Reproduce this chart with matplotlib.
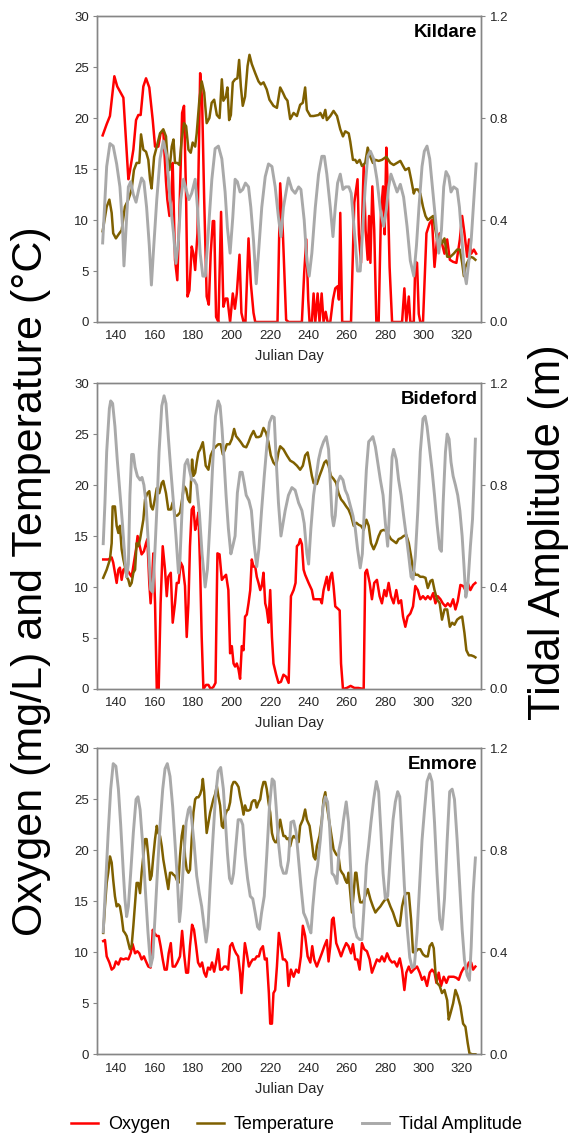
import matplotlib.pyplot as plt

plt.rcParams['font.family'] = ['Liberation Sans', 'DejaVu Sans']

# ---------------- data ----------------
# Kildare
kil_o2_day = [132.8, 134.9, 136.6, 138.9, 140.4, 142.7, 143.6, 146.2, 147, 148.8, 150.2, 151.4, 152.6, 154,
              155.4, 157.1, 158.9, 160.1, 161.8, 163, 164.4, 165.8, 166.5, 167.6, 168.6, 169.3, 170.5, 171.7,
              172.8, 174.2, 175.2, 176.3, 177, 178, 179.2, 180.1, 181, 182.2, 183.6, 184.6, 185.7, 187, 188.1,
              189.1, 190.2, 190.9, 191.9, 193.1, 194.5, 195.7, 196.8, 197.8, 199.2, 200.6, 201.7, 202.7, 204.1,
              205.1, 206.2, 207.2, 208.8, 210, 211.4, 212.3, 223.9, 225.3, 226.7, 228.4, 229.7, 236.6, 237.8,
              238.9, 239.9, 240.6, 241.8, 242.7, 243.6, 244.8, 245.8, 246.9, 247.9, 249, 250, 251.4, 252.8, 254,
              255.2, 255.9, 256.6, 257.6, 262.2, 263.9, 265.6, 266.3, 267.4, 268.8, 269.8, 270.9, 271.6, 272.3,
              273.3, 274.3, 275.4, 276.6, 277.8, 278.9, 279.7, 280.6, 281.3, 282.3, 283.6, 288.8, 290, 291,
              292.3, 293.1, 294.9, 295.7, 296.6, 297.5, 298.3, 299.7, 301.5, 303.2, 304.4, 305.7, 307, 308.4,
              309.6, 310.9, 312.3, 313.7, 315.4, 317.1, 318.9, 320.1, 321.3, 322.7, 323.7, 324.8, 326.2, 327.4]
kil_o2 = [18.3, 19.4, 20.2, 24.1, 23.1, 22.3, 22.0, 14.0, 14.8, 16.9, 19.8, 20.3, 20.3, 23.1,
          23.9, 23.0, 19.8, 17.2, 17.2, 18.5, 18.7, 13.8, 12.0, 10.4, 12.3, 15.6, 6.1, 4.1,
          10.7, 20.5, 21.2, 12.0, 2.5, 3.1, 7.4, 6.7, 5.1, 8.7, 24.4, 21.8, 12.0, 2.5, 1.7,
          6.7, 9.9, 9.9, 0.5, 0.0, 10.8, 1.5, 2.3, 2.3, 0.0, 2.8, 1.3, 2.8, 6.6,
          0.9, 0.0, 0.0, 8.2, 3.8, 0.9, 0.0, 0.0, 13.6, 8.7, 0.2, 0.0, 0.0, 4.8,
          8.1, 2.2, 0.0, 0.0, 2.8, 0.0, 2.8, 0.0, 2.8, 0.0, 1.0, 0.0, 0.0, 2.2, 3.3,
          3.5, 2.2, 10.7, 0.0, 0.0, 11.7, 14.0, 8.6, 5.8, 15.4, 9.0, 6.1, 10.4, 5.8,
          13.3, 9.0, 0.0, 0.0, 10.7, 13.3, 8.6, 17.1, 13.3, 5.4, 0.0, 0.0, 3.3, 0.0,
          2.5, 0.0, 0.0, 5.9, 5.8, 0.8, 0.0, 0.0, 8.7, 9.7, 10.0, 5.4, 8.1, 8.7,
          7.7, 6.7, 8.1, 6.1, 5.9, 5.8, 8.1, 10.4, 8.7, 6.4, 8.1, 6.7, 7.1, 6.7]

kil_temp_day = [132.8, 134.9, 136.3, 137.5, 138.3, 139.7, 141.5, 142.7, 144.4, 146.2, 147.9, 149.1, 150.5,
                151.9, 152.8, 154, 155.4, 156.6, 157.5, 158.3, 159.6, 161, 162.7, 164.4, 165.8, 166.5, 167.6,
                168.8, 169.7, 170.5, 171.7, 172.8, 174, 175.2, 176.3, 177.5, 178.7, 179.7, 181, 181.8, 183.2,
                184.4, 185.7, 187, 188.4, 189.6, 190.9, 192.3, 193.7, 194.9, 195.7, 197, 197.8, 198.7, 199.6,
                200.6, 201.8, 203, 203.9, 204.8, 205.8, 207, 208.3, 209.3, 210.5, 212.3, 214, 215.2, 216.6,
                218.3, 219.7, 221.8, 223.6, 225.3, 226.7, 227.9, 229.1, 230.5, 232.3, 234, 235.7, 237.1, 238.3,
                239.2, 241, 242.7, 245.3, 246.2, 247.6, 248.8, 249.6, 251.4, 253.1, 254.9, 256.6, 258, 259.2,
                261, 261.8, 263.2, 264.4, 265.3, 266.7, 267.9, 269.6, 270.9, 272.3, 273.6, 274.9, 276.6, 278.3,
                280.6, 282.7, 284.4, 286.2, 287.9, 289.3, 290.5, 292.3, 293.5, 294.9, 295.7, 297, 298.3, 299.7,
                301, 302.2, 303.6, 305, 306.2, 307, 308.4, 309.6, 310.9, 312.3, 314, 315.7, 317.5, 318.9, 320.1,
                321, 321.8, 323, 324.4, 325.8, 327]
kil_temp = [8.9, 11.3, 12.0, 10.7, 8.7, 8.2, 8.7, 9.0, 11.3, 12.0, 13.0, 14.9, 15.6,
            15.6, 18.4, 16.9, 16.7, 15.9, 14.0, 13.1, 16.2, 17.2, 18.5, 18.9, 18.2, 16.2, 14.9,
            17.2, 17.9, 15.6, 15.6, 15.4, 17.9, 19.5, 19.2, 16.9, 16.6, 17.6, 17.2, 18.5, 21.8,
            23.6, 22.5, 19.5, 20.0, 21.5, 21.8, 20.3, 20.0, 23.8, 21.7, 22.1, 23.0, 19.8, 20.3,
            23.5, 23.8, 23.9, 25.7, 23.1, 21.2, 22.1, 25.1, 26.2, 25.3, 24.4, 23.6, 23.3, 23.5,
            22.8, 21.8, 21.2, 21.0, 23.0, 22.5, 22.0, 21.7, 19.9, 20.5, 20.2, 21.3, 21.5, 23.0,
            20.8, 20.2, 20.2, 20.3, 20.5, 20.0, 20.8, 19.8, 20.2, 20.7, 20.2, 18.9, 18.2, 18.7,
            18.5, 17.7, 15.9, 15.9, 15.6, 15.9, 15.3, 15.6, 17.1, 16.2, 15.6, 15.9, 15.8, 15.9,
            16.2, 15.6, 15.4, 15.6, 15.8, 15.3, 14.9, 15.1, 14.0, 12.6, 13.0, 13.0, 12.6, 11.3,
            10.4, 10.0, 10.2, 10.4, 9.0, 8.1, 8.4, 7.7, 8.2, 6.4, 6.4, 6.7, 7.1, 7.1, 5.8,
            4.5, 5.4, 5.9, 6.4, 6.3, 6.1]

kil_tide_day = [132.8, 134.9, 136.6, 138.3, 140.1, 141.8, 143.2, 143.9, 145, 146.2, 147.4, 148.8, 150.2,
                151.6, 153.1, 154.3, 155.7, 157.1, 158.2, 159.2, 161, 162.7, 164.4, 166.2, 167.9, 169.7, 171,
                172.3, 173.5, 174.9, 176.3, 177.7, 179.2, 181, 182.2, 183.6, 185, 186.3, 187.9, 189.7, 191.4,
                193.1, 194.9, 196.6, 197.8, 199.2, 200.6, 201.8, 203, 204.4, 205.8, 207.2, 208.8, 210, 211.4,
                212.8, 214, 215.7, 217.5, 219.2, 221, 222.7, 224.4, 225.7, 227, 228.8, 229.6, 231.4, 233.1,
                234.9, 236.1, 237.8, 239.2, 240.4, 241.8, 243.6, 245.3, 247, 248.3, 249.6, 251.4, 252.8, 254,
                255.2, 256.6, 258, 259.4, 261.1, 262.3, 263.9, 265.6, 267, 268.4, 269.6, 270.9, 272.3, 274,
                275.7, 277.5, 279.2, 280.6, 281.8, 283, 284.4, 286.2, 287.9, 289.6, 291.4, 293.1, 294.9, 296.3,
                297.6, 299.2, 300.4, 301.8, 303.2, 304.6, 306.2, 307.9, 309.3, 310.5, 311.7, 313.1, 314.3,
                315.7, 317.5, 318.7, 320.1, 321.3, 322.3, 323.6, 324.8, 326.2, 327.4]
kil_tide = [0.31, 0.61, 0.70, 0.69, 0.62, 0.53, 0.37, 0.22, 0.37, 0.53, 0.55, 0.50, 0.47,
            0.52, 0.565, 0.55, 0.45, 0.30, 0.145, 0.27, 0.48, 0.64, 0.71, 0.65, 0.48, 0.35, 0.23,
            0.32, 0.48, 0.56, 0.52, 0.48, 0.505, 0.56, 0.45, 0.27, 0.18, 0.18, 0.36, 0.56, 0.68,
            0.69, 0.64, 0.51, 0.37, 0.27, 0.41, 0.56, 0.55, 0.51, 0.52, 0.545, 0.53, 0.45, 0.32,
            0.15, 0.27, 0.45, 0.57, 0.62, 0.61, 0.53, 0.41, 0.335, 0.45, 0.53, 0.565, 0.52, 0.505,
            0.53, 0.52, 0.40, 0.24, 0.18, 0.27, 0.45, 0.58, 0.65, 0.65, 0.58, 0.45, 0.335, 0.45,
            0.545, 0.58, 0.52, 0.53, 0.53, 0.505, 0.36, 0.20, 0.20, 0.375, 0.53, 0.65, 0.67, 0.64,
            0.56, 0.44, 0.375, 0.44, 0.53, 0.58, 0.55, 0.51, 0.54, 0.49, 0.375, 0.24, 0.18, 0.30,
            0.45, 0.61, 0.67, 0.69, 0.64, 0.53, 0.40, 0.27, 0.36, 0.53, 0.59, 0.57, 0.51,
            0.53, 0.52, 0.45, 0.31, 0.19, 0.15, 0.24, 0.32, 0.48, 0.62]

# Bideford
bid_o2_day = [133.1, 135.7, 137.5, 138.3, 139.2, 140.1, 141, 141.8, 142.7, 143.6, 145, 146.2, 147.9, 149.1,
              150.2, 151, 151.9, 153.1, 154.3, 155.4, 156.1, 157.1, 157.8, 158.5, 159.2, 160.1, 161, 162, 163,
              164.1, 165.3, 166.2, 167, 168.3, 169.3, 170.5, 171.4, 172.4, 173.5, 174.5, 175.7, 176.6, 177.5,
              178.3, 179.2, 180.1, 181, 181.8, 182.7, 183.6, 184.4, 185.3, 186.7, 187.9, 189.1, 190.5, 191.6,
              192.6, 193.7, 194.9, 196.1, 197.1, 198.3, 199.2, 200.1, 201, 201.8, 202.7, 203.6, 204.4, 205.3,
              206.2, 207, 207.9, 208.8, 209.7, 210.5, 211.4, 212.3, 213.1, 214, 214.9, 215.7, 216.6, 217.5,
              218.3, 219.2, 220.1, 221, 221.8, 223.2, 224.4, 225.7, 227, 228.4, 229.7, 230.9, 232.3, 233.3,
              234, 235, 235.7, 236.6, 237.5, 238.3, 240.1, 241.8, 242.7, 244.4, 246.2, 247, 247.9, 249.6,
              250.5, 251.4, 252.3, 253.1, 254, 255.2, 256.3, 257, 258, 260, 262, 264, 266, 268.8, 269.6,
              270.5, 271.9, 273.1, 274.3, 275.7, 277.1, 278.3, 279.6, 280.6, 281.8, 283, 284.4, 285.8, 287,
              288.3, 289.3, 290.5, 291.7, 293.1, 294.5, 295.7, 297, 298.3, 299.7, 301, 302.2, 303.6, 305,
              306.2, 307.4, 308.8, 310, 311.4, 312.6, 314, 315.4, 316.6, 317.8, 319.2, 320.6, 321.8, 323,
              324.4, 325.8, 327]
bid_o2 = [12.7, 12.7, 12.9, 12.4, 11.4, 10.4, 11.7, 11.9, 10.7, 11.7, 11.9, 11.5, 11.0, 12.4,
          13.7, 15.0, 14.2, 13.2, 13.5, 14.3, 14.7, 10.4, 8.4, 10.4, 13.3, 8.4, 0.0, 0.0, 8.4,
          14.0, 11.7, 9.1, 11.0, 11.4, 6.5, 8.4, 10.4, 10.4, 12.4, 12.0, 10.1, 5.1, 8.4,
          14.0, 17.6, 17.9, 15.6, 16.3, 17.3, 11.7, 5.1, 0.0, 0.4, 0.4, 0.0, 0.2, 0.6,
          13.3, 13.2, 10.7, 11.0, 11.2, 9.7, 3.5, 4.2, 2.5, 2.2, 2.5, 1.9, 1.0, 4.2,
          3.8, 7.1, 7.3, 8.4, 9.7, 12.7, 12.0, 12.0, 11.0, 10.4, 9.7, 10.1, 11.4, 8.4,
          7.8, 6.5, 9.7, 5.1, 2.5, 1.4, 0.6, 0.7, 1.4, 1.2, 0.6, 9.1, 9.7, 10.4,
          14.0, 14.2, 14.7, 14.2, 11.7, 11.2, 10.4, 9.7, 8.8, 8.8, 8.8, 8.4, 9.7, 11.0,
          9.7, 11.0, 11.4, 10.1, 8.1, 7.9, 7.7, 2.5, 0.0, 0.1, 0.3, 0.1, 0.1, 0.0, 11.4,
          11.7, 10.4, 8.8, 10.4, 10.7, 9.1, 8.4, 9.7, 9.1, 10.4, 9.1, 8.4, 9.7, 8.4,
          8.7, 7.1, 6.1, 7.1, 7.4, 8.1, 10.1, 9.7, 8.8, 9.1, 8.8, 9.1, 8.8, 9.4,
          8.4, 9.1, 8.8, 8.4, 8.1, 8.4, 8.1, 8.8, 7.8, 8.6, 10.2, 10.1, 9.7, 10.4,
          9.7, 10.2, 10.4]

bid_temp_day = [133.1, 134.9, 136.6, 137.5, 138, 139.2, 140.1, 141, 141.8, 142.7, 143.6, 144.4, 145.3, 146.2,
                147, 147.9, 148.8, 149.7, 150.5, 151.4, 152.3, 153.1, 154, 154.9, 156.1, 157.1, 158, 158.9,
                159.7, 161, 162.3, 163.6, 164.4, 165.8, 167, 168.3, 169.3, 170.5, 171.7, 173.1, 174.2, 175.2,
                176.3, 177.3, 178.3, 179.4, 180.1, 181, 181.8, 182.7, 183.6, 185, 185.7, 186.5, 187.9, 189.1,
                190.5, 191.9, 193.1, 194.3, 195.4, 196.6, 197.5, 198.9, 200.1, 201.3, 202.3, 203.6, 204.8,
                206.2, 207.6, 208.8, 210, 211.4, 212.8, 214, 215.2, 216.6, 218, 219.2, 220.4, 221.8, 223.2,
                224.4, 225.3, 227, 228.8, 230.5, 232.3, 234, 235.7, 237.1, 238.3, 239.6, 240.6, 241.8, 242.7,
                244.4, 245.8, 247, 248.3, 249.3, 250.5, 251.7, 253.1, 254.5, 255.7, 257, 258.3, 259.7, 260.9,
                262.2, 263.6, 265, 266.2, 267.4, 268.8, 270.2, 271.4, 272.6, 274, 275.4, 276.6, 277.8, 279.2,
                280.6, 281.8, 283, 284.4, 285.8, 287, 288.3, 289.6, 291, 292.3, 293.5, 294.5, 295.7, 297,
                298.3, 299.7, 301, 302.2, 303.6, 304.6, 305.7, 307, 308.4, 309.6, 310.9, 312.3, 313.7, 314.9,
                316.1, 317.5, 318.9, 320.1, 321.3, 322.3, 323.6, 324.8, 326.2, 327]
bid_temp = [10.9, 11.7, 12.7, 14.3, 17.9, 17.9, 16.0, 15.3, 16.0, 13.7, 12.7, 12.0, 11.0, 10.7,
            10.1, 10.4, 11.4, 11.7, 14.3, 14.0, 14.7, 15.6, 16.6, 18.6, 19.2, 19.4, 17.9, 17.6,
            18.3, 19.7, 19.2, 20.2, 20.4, 19.2, 17.6, 17.6, 18.3, 17.0, 17.0, 17.3, 18.6, 19.9,
            19.6, 18.6, 18.3, 22.5, 20.9, 21.2, 22.2, 23.2, 23.5, 24.2, 23.2, 21.9, 21.5, 22.9,
            23.5, 23.8, 24.0, 24.0, 23.0, 23.5, 24.0, 24.0, 24.5, 25.5, 24.8, 24.5, 24.2,
            23.8, 23.7, 24.2, 24.8, 25.3, 24.7, 24.7, 24.8, 25.6, 25.1, 24.2, 22.9, 22.2, 21.9,
            23.2, 23.8, 23.5, 22.9, 22.4, 22.2, 21.9, 21.5, 21.9, 22.9, 23.2, 22.2, 20.9, 20.2,
            20.1, 20.9, 21.5, 22.2, 22.4, 21.9, 20.9, 20.6, 20.2, 19.2, 18.6, 18.3, 17.9, 17.6,
            17.0, 16.0, 16.3, 16.1, 16.0, 15.6, 16.6, 16.0, 14.3, 13.7, 14.3, 15.0, 15.5, 15.6,
            15.5, 15.1, 14.7, 14.5, 14.3, 14.7, 14.8, 15.0, 15.1, 14.3, 13.0, 11.7, 11.2, 11.2,
            11.0, 11.0, 10.9, 9.9, 10.6, 10.7, 9.7, 8.8, 8.4, 6.8, 7.8, 7.8, 6.1, 6.5,
            6.3, 6.8, 7.0, 7.1, 5.5, 3.8, 3.3, 3.3, 3.2, 3.1]

bid_tide_day = [133.1, 134, 134.9, 136.3, 137, 138, 139.2, 140.4, 141.8, 143.2, 144.4, 145.3, 146.2, 147,
                147.9, 148.8, 149.7, 150.9, 152.3, 153.3, 154.3, 155.4, 156.6, 157.8, 158.9, 159.9, 161,
                162.2, 163.6, 164.8, 165.8, 167, 168.3, 169.7, 171, 172.3, 173.1, 174.5, 175.7, 177, 178,
                179.2, 180.4, 181.8, 183.2, 184.6, 186.2, 187.4, 188.8, 190.2, 191.6, 193, 194, 195, 196.1,
                197.1, 198.3, 199.6, 200.6, 201.8, 203, 204.4, 205.5, 206.5, 207.6, 209, 210.3, 211.7, 213.1,
                214.2, 215.6, 217, 218.3, 219.7, 221.1, 222.2, 223.2, 224.4, 225.7, 227.9, 229.6, 231.4,
                233.1, 234.9, 236.6, 237.8, 239.2, 240.1, 241.3, 242.7, 244.1, 245.3, 246.5, 247.9, 249.3,
                250.5, 251.4, 252.3, 253.1, 254, 255.2, 256.6, 258, 259.2, 260.4, 261.8, 263.2, 264.4, 265.6,
                267, 268.1, 269.1, 270.2, 271.4, 272.6, 273.6, 274.9, 276.1, 277.5, 278.9, 280.1, 281.3,
                282.3, 283.6, 284.4, 285.8, 287, 288.3, 289.6, 291, 292.3, 293.5, 294.5, 295.7, 297, 298.3,
                299.7, 300.8, 301.8, 303.2, 304.4, 305.7, 307, 308.4, 309.3, 310.2, 311.4, 312.3, 313.3,
                314.3, 315.4, 316.6, 317.8, 318.9, 320.1, 321, 322, 323, 324.4, 325.5, 326.2, 327]
bid_tide = [0.57, 0.73, 0.93, 1.10, 1.13, 1.12, 1.03, 0.90, 0.77, 0.64, 0.51, 0.44, 0.49, 0.76,
            0.92, 0.92, 0.87, 0.835, 0.82, 0.83, 0.80, 0.73, 0.57, 0.39, 0.38, 0.52, 0.70,
            0.93, 1.11, 1.15, 1.12, 0.99, 0.86, 0.73, 0.60, 0.455, 0.51, 0.76, 0.88, 0.90, 0.86,
            0.82, 0.82, 0.80, 0.69, 0.53, 0.40, 0.47, 0.665, 0.89, 1.07, 1.13, 1.11, 1.02, 0.89,
            0.76, 0.63, 0.53, 0.56, 0.60, 0.77, 0.85, 0.85, 0.81, 0.76, 0.74, 0.70, 0.57, 0.48,
            0.55, 0.70, 0.835, 0.95, 1.045, 1.07, 1.065, 0.90, 0.73, 0.60, 0.70, 0.76, 0.79,
            0.78, 0.73, 0.70, 0.65, 0.53, 0.49, 0.63, 0.76, 0.835, 0.90, 0.94, 0.97, 0.99,
            0.94, 0.81, 0.68, 0.64, 0.68, 0.81, 0.835, 0.82, 0.78, 0.76, 0.72, 0.68, 0.63, 0.55,
            0.475, 0.53, 0.70, 0.86, 0.97, 0.98, 0.99, 0.95, 0.89, 0.82, 0.76, 0.65, 0.56,
            0.70, 0.91, 0.94, 0.90, 0.82, 0.76, 0.68, 0.60, 0.52, 0.44, 0.43, 0.52, 0.70, 0.93,
            1.06, 1.07, 1.03, 0.94, 0.86, 0.76, 0.65, 0.55, 0.54, 0.73, 0.93, 1.00, 0.98,
            0.89, 0.835, 0.80, 0.76, 0.70, 0.60, 0.49, 0.36, 0.40, 0.56, 0.665, 0.80, 0.98]

# Enmore
enm_o2_day = [133.1, 134, 134.9, 136.3, 137.5, 138.7, 139.7, 141, 142.2, 143.6, 145, 146.2, 147.4, 148.4,
              149.7, 150.9, 151.9, 153.1, 154.3, 155.4, 156.6, 157.8, 158.9, 159.7, 161, 162, 163, 164.1,
              165.1, 166.2, 167.2, 168.3, 169.3, 170.5, 171.7, 173.1, 174.2, 175.2, 176.3, 177.3, 178.3,
              179.4, 180.4, 181.5, 182.5, 183.6, 184.6, 185.7, 186.7, 187.7, 188.8, 189.8, 190.9, 191.9, 193,
              194, 195, 196.1, 197.1, 198.2, 199.2, 200.3, 201.3, 202.3, 203.4, 204.4, 205.1, 205.8, 206.9,
              207.9, 209, 210, 211, 212.1, 213.1, 214.2, 215.2, 216.3, 217.3, 218.3, 219.4, 220.1, 221,
              221.8, 222.7, 223.6, 224.6, 225.7, 226.7, 227.7, 228.8, 229.6, 230.9, 232.3, 233.6, 234.9,
              236.1, 237.1, 238.3, 239.6, 241, 242, 243, 244.4, 245.8, 247, 248.3, 249.6, 250.5, 251.4,
              252.3, 253.1, 254.5, 255.7, 257, 258.3, 259.7, 260.9, 262.2, 263.2, 264.4, 265.6, 266.7,
              267.9, 269.1, 270.5, 271.9, 273.1, 274.3, 275.7, 277.1, 278.3, 279.6, 281, 282.3, 283.6,
              284.8, 286.2, 287.6, 288.8, 290, 291, 292.3, 293.5, 294.9, 296.6, 298, 299.2, 300.4, 301.8,
              303.2, 304.4, 305.7, 306.7, 307.9, 309.1, 310.5, 311.9, 313.1, 314.3, 315.7, 317.1, 318.3,
              319.6, 321, 322.3, 323.6, 324.8, 325.8, 327]
enm_o2 = [11.1, 11.2, 9.6, 9.0, 8.3, 8.5, 9.1, 8.8, 9.4, 9.3, 9.4, 9.3, 9.9, 10.8,
          9.9, 10.1, 9.9, 9.3, 9.6, 9.1, 8.6, 8.5, 12.2, 11.9, 11.6, 11.6, 10.6, 9.3,
          8.3, 8.3, 9.9, 10.9, 8.6, 8.6, 9.0, 9.6, 12.1, 9.9, 8.0, 8.0, 10.6,
          12.7, 12.2, 10.6, 9.0, 8.6, 9.0, 8.0, 7.6, 8.5, 8.3, 9.0, 8.1, 9.0, 10.3,
          8.3, 8.3, 8.6, 8.6, 8.3, 10.6, 10.9, 10.3, 9.9, 9.6, 8.0, 6.0, 8.0, 10.9,
          9.9, 8.6, 9.0, 9.3, 9.3, 9.6, 9.6, 10.3, 10.6, 9.3, 9.4, 6.0, 3.0, 3.0,
          6.0, 6.3, 8.6, 11.9, 10.6, 9.3, 9.3, 9.0, 6.7, 8.3, 7.6, 8.3, 8.0,
          9.6, 12.6, 11.6, 9.6, 9.0, 10.6, 9.3, 8.6, 9.3, 9.9, 10.6, 11.2, 9.1, 10.6,
          13.2, 13.4, 10.9, 10.3, 9.6, 10.3, 10.9, 10.6, 9.9, 10.8, 9.3, 9.3, 8.3,
          10.9, 10.3, 10.1, 9.3, 8.0, 8.6, 9.3, 9.1, 9.6, 9.1, 9.9, 9.3, 9.0,
          9.1, 8.6, 9.4, 8.3, 6.3, 8.0, 8.6, 8.0, 8.3, 8.6, 8.0, 7.3, 7.6, 6.7,
          8.0, 8.3, 8.0, 7.0, 8.0, 6.7, 7.6, 7.0, 7.6, 7.6, 7.6, 7.5, 7.3,
          8.0, 8.5, 8.3, 9.0, 9.0, 8.3, 8.6]

enm_temp_day = [133.1, 134, 134.9, 135.7, 136.6, 137.5, 138.3, 139.2, 140.1, 141, 141.8, 142.7, 143.6, 144.4,
                145.3, 146.2, 147, 147.9, 148.8, 149.7, 150.5, 151.4, 152.3, 153.1, 154, 154.9, 155.7, 156.6,
                157.5, 158.3, 159.2, 160.1, 161, 161.8, 162.7, 163.6, 164.4, 165.3, 166.2, 167, 167.9, 168.8,
                169.7, 170.5, 171.4, 172.3, 173.1, 174, 174.9, 175.7, 176.6, 177.5, 178.3, 179.2, 180.1, 181,
                181.8, 182.7, 183.6, 184.4, 185, 185.7, 186.4, 187, 187.9, 188.8, 189.7, 190.5, 191.4, 192.3,
                193.1, 194, 194.9, 195.7, 196.6, 197.5, 198.3, 199.2, 200.1, 201, 201.8, 202.7, 203.6, 204.4,
                205.3, 206.2, 207, 207.9, 208.8, 209.7, 210.5, 211.4, 212.3, 213.1, 214, 214.9, 215.7, 216.6,
                217.5, 218.3, 219.2, 220.1, 221, 221.8, 222.7, 223.6, 224.4, 225.3, 226.2, 227, 227.9, 228.8,
                229.7, 230.5, 231.4, 232.3, 234, 234.9, 235.7, 237.1, 238.3, 239.2, 240.6, 241.8, 242.7,
                243.6, 244.4, 245.8, 247, 247.9, 248.8, 249.6, 251, 252.3, 253.1, 254.5, 255.7, 256.6, 257.5,
                258.3, 259.2, 260.1, 260.9, 261.8, 262.7, 263.6, 264.4, 265, 266.2, 267, 268.4, 269.6, 270.9,
                272.3, 273.6, 274.9, 276.1, 277.5, 278.9, 280.1, 281.3, 282.7, 284.1, 285.3, 286.5, 287.6,
                288.8, 290, 291, 292.3, 293.5, 294.5, 295.7, 297, 298.3, 299.7, 301, 302.2, 303.2, 304.4,
                305.3, 306.2, 307, 308.4, 309.6, 310.9, 312.3, 313.1, 314, 315.4, 316.6, 317.8, 319.2, 320.6,
                321.8, 323, 323.9, 325.3, 327]
enm_temp = [11.9, 14.5, 16.8, 17.8, 19.4, 18.8, 17.1, 15.5, 14.5, 14.7, 14.5, 13.5, 12.1, 11.9,
            11.6, 10.9, 10.3, 10.6, 12.6, 14.9, 16.8, 16.8, 15.8, 17.8, 19.4, 21.1, 21.1, 19.4,
            17.1, 17.5, 19.4, 21.1, 22.4, 21.7, 21.4, 20.4, 19.1, 18.1, 17.1, 16.2, 17.8, 17.8,
            17.6, 17.5, 17.1, 16.8, 19.4, 21.4, 22.4, 19.4, 18.1, 17.8, 18.1, 21.1, 23.7, 25.0,
            25.2, 25.2, 25.5, 26.0, 27.0, 25.7, 23.4, 21.7, 22.7, 23.7, 24.4, 25.0, 25.5, 26.3,
            25.3, 24.4, 22.4, 22.2, 23.4, 23.9, 24.0, 24.7, 26.3, 26.7, 26.7, 26.5, 26.2, 25.3,
            24.5, 23.5, 24.4, 23.9, 23.9, 24.0, 24.7, 24.9, 24.9, 24.2, 24.7, 25.0, 26.0, 26.7,
            26.7, 26.0, 24.7, 23.7, 21.7, 21.1, 20.8, 20.8, 22.1, 23.0, 22.1, 21.4, 21.4, 21.1,
            21.2, 20.4, 21.1, 21.4, 21.1, 20.8, 22.4, 23.0, 24.0, 23.0, 22.4, 20.8, 19.4,
            19.1, 20.4, 21.4, 23.0, 25.0, 25.7, 24.4, 22.7, 21.1, 20.1, 19.6, 19.4, 18.1, 17.8,
            17.6, 17.1, 16.8, 17.8, 15.8, 13.9, 15.8, 17.8, 17.8, 15.8, 14.9, 14.9, 15.5, 16.2,
            15.2, 14.5, 13.9, 14.2, 14.5, 14.9, 15.2, 15.2, 14.5, 13.9, 13.2, 12.6, 12.6,
            14.5, 15.5, 15.8, 15.8, 13.2, 10.0, 10.0, 10.3, 10.3, 9.8, 9.6, 9.6, 10.6, 10.9,
            10.4, 8.0, 7.0, 6.7, 6.0, 6.3, 5.3, 3.4, 4.0, 5.0, 6.3, 5.7, 4.7, 3.0,
            2.7, 1.1, 0.1, 0.0, 0.0]

enm_tide_day = [133.1, 134.5, 135.7, 137, 138.3, 139.7, 141, 142.2, 143.6, 144.4, 145.3, 146.2, 147.4, 148.8,
                150.2, 151.2, 152.3, 153.7, 155, 156.4, 157.8, 158.9, 160.1, 161.3, 162.7, 164.1, 165.3, 166.5,
                167.9, 169.3, 170.5, 171.7, 172.8, 173.5, 174.9, 176.3, 177.5, 178.3, 179.2, 180.4, 181.8,
                183.2, 184.4, 185.7, 186.7, 187.7, 188.8, 190.2, 191.6, 193, 194.3, 195.7, 196.8, 197.8, 198.9,
                200, 201, 202, 203.4, 204.8, 205.8, 207, 208.3, 209.7, 211, 212.3, 213.5, 214.5, 215.6, 217,
                218.3, 219.7, 221.1, 222.2, 223.2, 224.4, 225.7, 227, 228.4, 229.6, 230.9, 232.3, 233.6, 234.9,
                236.1, 237.5, 238.9, 240.1, 241.3, 242.3, 243.6, 244.8, 246.2, 247.6, 248.8, 250, 251, 252.3,
                253.5, 254.9, 255.9, 257, 258.3, 259.7, 260.9, 261.8, 262.7, 263.9, 265.3, 266.7, 267.9,
                268.8, 270.2, 271.4, 272.6, 274, 275.4, 276.6, 277.8, 278.9, 280.1, 281.3, 282.7, 284.1,
                285.3, 286.5, 287.6, 288.8, 290, 291.4, 292.8, 294, 295.2, 296.6, 298, 299.2, 300.4, 301.8,
                303.2, 304.4, 305.7, 307, 308.4, 309.6, 310.9, 312.3, 313.6, 314.9, 316.1, 317.5, 318.9,
                320.1, 321.3, 322.7, 323.9, 324.8, 325.8, 327]
enm_tide = [0.48, 0.69, 0.87, 1.04, 1.14, 1.13, 1.04, 0.90, 0.71, 0.61, 0.54, 0.58, 0.71, 0.87,
            1.00, 1.01, 0.96, 0.82, 0.65, 0.48, 0.345, 0.38, 0.54, 0.71, 0.90, 1.04, 1.12, 1.14,
            1.09, 0.97, 0.83, 0.69, 0.52, 0.57, 0.75, 0.91, 0.96, 0.97, 0.92, 0.83, 0.70,
            0.63, 0.58, 0.50, 0.44, 0.50, 0.66, 0.84, 1.01, 1.11, 1.125, 1.04, 0.91, 0.79, 0.69,
            0.67, 0.71, 0.80, 0.92, 0.92, 0.90, 0.78, 0.69, 0.62, 0.61, 0.555, 0.50, 0.49, 0.555, 0.62,
            0.78, 0.97, 1.08, 1.07, 0.97, 0.83, 0.74, 0.71, 0.71, 0.76, 0.91, 0.915, 0.87, 0.76,
            0.66, 0.555, 0.53, 0.50, 0.476, 0.58, 0.686, 0.74, 0.84, 0.97, 1.01, 0.99, 0.90, 0.71,
            0.70, 0.67, 0.80, 0.84, 0.92, 0.99, 0.91, 0.76, 0.62, 0.50, 0.46, 0.45, 0.45,
            0.555, 0.74, 0.82, 0.91, 1.00, 1.07, 1.03, 0.87, 0.71, 0.61, 0.62, 0.78, 0.92,
            0.99, 1.03, 1.01, 0.84, 0.66, 0.50, 0.38, 0.34, 0.345, 0.476, 0.67, 0.84, 0.95, 1.07,
            1.10, 1.07, 0.91, 0.71, 0.53, 0.49, 0.61, 0.84, 1.03, 1.04, 1.00, 0.84, 0.65,
            0.49, 0.37, 0.31, 0.29, 0.42, 0.63, 0.77]

sites = ['Kildare', 'Bideford', 'Enmore']
o2_days = [kil_o2_day, bid_o2_day, enm_o2_day]
o2_vals = [kil_o2, bid_o2, enm_o2]
temp_days = [kil_temp_day, bid_temp_day, enm_temp_day]
temp_vals = [kil_temp, bid_temp, enm_temp]
tide_days = [kil_tide_day, bid_tide_day, enm_tide_day]
tide_vals = [kil_tide, bid_tide, enm_tide]

# ---------------- plotting ----------------
c_o2 = '#FF0000'
c_temp = '#7F6000'
c_tide = '#A9A9A9'
spine_c = '#868686'
txt_c = '#262626'

fig = plt.figure(figsize=(5.79, 11.33), dpi=100)
bottoms = [0.7158, 0.3919, 0.0695]

for i in range(3):
    ax1 = fig.add_axes([0.168, bottoms[i], 0.663, 0.270])
    ax2 = ax1.twinx()

    l1, = ax1.plot(o2_days[i], o2_vals[i], color=c_o2, lw=1.8, label='Oxygen')
    l2, = ax1.plot(temp_days[i], temp_vals[i], color=c_temp, lw=1.8, label='Temperature')
    l3, = ax2.plot(tide_days[i], tide_vals[i], color=c_tide, lw=2.1, label='Tidal Amplitude')

    ax1.set_xlim(130, 330)
    ax1.set_ylim(0, 30)
    ax2.set_ylim(0, 1.2)
    ax1.set_xticks(range(140, 330, 20))
    ax1.set_yticks(range(0, 31, 5))
    ax2.set_yticks([0.0, 0.4, 0.8, 1.2])
    ax2.set_yticklabels(['0.0', '0.4', '0.8', '1.2'])

    for ax in (ax1, ax2):
        for s in ax.spines.values():
            s.set_color(spine_c)
            s.set_linewidth(1.0)
    ax1.tick_params(axis='x', length=0, pad=6, labelsize=9.5, colors=txt_c)
    ax1.tick_params(axis='y', length=3, width=0.8, color=spine_c, labelcolor=txt_c, labelsize=9.5, pad=3)
    ax2.tick_params(axis='y', length=3, width=0.8, color=spine_c, labelcolor=txt_c, labelsize=9.5, pad=3)

    ax1.set_xlabel('Julian Day', fontsize=10.5, color=txt_c, labelpad=5)
    ax1.text(0.99, 0.975, sites[i], transform=ax1.transAxes, ha='right', va='top',
             fontsize=13.5, fontweight='bold', color='black')

fig.text(0.053, 1 - 581 / 1133, 'Oxygen (mg/L) and Temperature (\u00b0C)', rotation=90,
         ha='center', va='center', fontsize=31, color='black')
fig.text(0.947, 1 - 532 / 1133, 'Tidal Amplitude (m)', rotation=90,
         ha='center', va='center', fontsize=31.5, color='black')

fig.legend(handles=[l1, l2, l3], loc='center', bbox_to_anchor=(0.512, 0.0075), ncol=3, frameon=False,
           fontsize=13, handlelength=1.5, handletextpad=0.55, columnspacing=1.5)

fig.savefig('out.png', dpi=100)
